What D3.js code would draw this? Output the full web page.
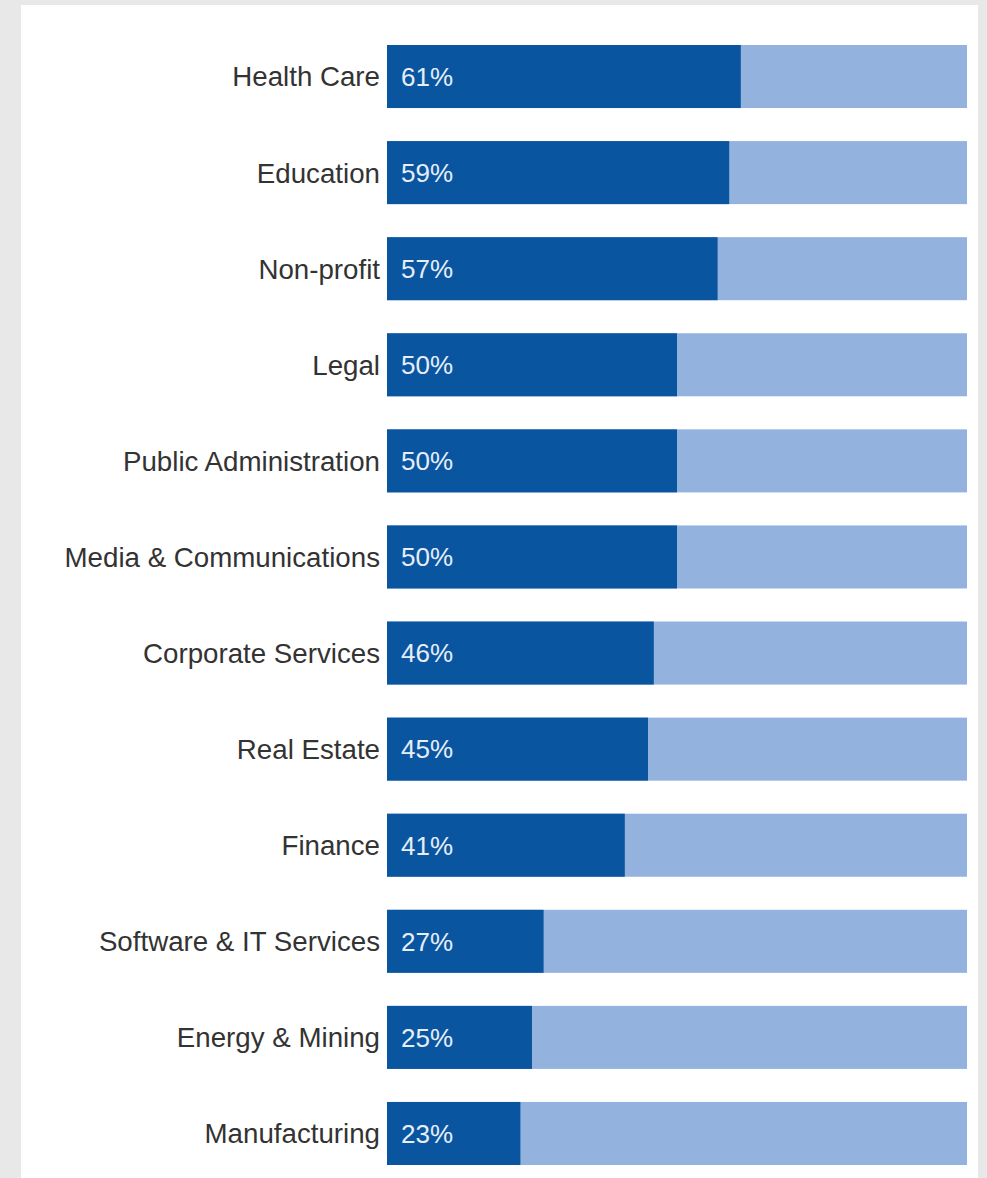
<!DOCTYPE html>
<html lang="en">
<head>
<meta charset="utf-8">
<title>Bars by industry</title>
<script src="https://d3js.org/d3.v7.min.js"></script>
<style>
  html, body { margin: 0; padding: 0; background: #e8e8e8; }
  #chart text { font-family: "Liberation Sans", Arial, Helvetica, sans-serif; }
</style>
</head>
<body>
<div id="chart"></div>
<script>
"use strict"

// dados
var industrias = ["Health Care", "Education", "Non-profit", "Legal", "Public Administration",
  "Media & Communications", "Corporate Services", "Real Estate", "Finance",
  "Software & IT Services", "Energy & Mining", "Manufacturing"];
var valores = [61, 59, 57, 50, 50, 50, 46, 45, 41, 27, 25, 23];
var rotulos = ["61%", "59%", "57%", "50%", "50%", "50%", "46%", "45%", "41%", "27%", "25%", "23%"];

var larguraSVG = 987, alturaSVG = 1178;

var svg = d3.select('#chart')
  .append('svg')
    .attr('width', larguraSVG)
    .attr('height', alturaSVG)
    .style('display', 'block');

// painel branco
svg.append('rect')
  .attr('x', 21).attr('y', 5)
  .attr('width', 957).attr('height', alturaSVG - 5)
  .attr('fill', '#ffffff');

var x = d3.scaleLinear()
  .domain([0, 100])
  .range([387, 967]);

var y = d3.scaleBand()
  .domain(industrias)
  .range([45, 1165])
  .paddingInner(0.344)
  .paddingOuter(0);

var dados = industrias.map((d, i) => ({ nome: d, valor: valores[i], rotulo: rotulos[i] }));

var linhas = svg.selectAll('g.linha')
  .data(dados)
  .enter()
    .append('g')
    .attr('class', 'linha');

// fundo claro (100%)
linhas.append('rect')
  .attr('x', x(0))
  .attr('y', d => y(d.nome))
  .attr('width', x(100) - x(0))
  .attr('height', y.bandwidth())
  .attr('fill', '#93b2dd');

// barra escura
linhas.append('rect')
  .attr('x', x(0))
  .attr('y', d => y(d.nome))
  .attr('width', d => x(d.valor) - x(0))
  .attr('height', y.bandwidth())
  .attr('fill', '#0a55a0');

// nomes
linhas.append('text')
  .attr('x', x(0) - 7)
  .attr('y', d => y(d.nome) + y.bandwidth() / 2)
  .attr('dy', '0.36em')
  .attr('text-anchor', 'end')
  .attr('fill', '#333333')
  .style('font-size', '27.7px')
  .text(d => d.nome);

// percentuais
linhas.append('text')
  .attr('x', x(0) + 14)
  .attr('y', d => y(d.nome) + y.bandwidth() / 2)
  .attr('dy', '0.36em')
  .attr('fill', '#e6eef8')
  .style('font-size', '26px')
  .text(d => d.rotulo);
</script>
</body>
</html>
